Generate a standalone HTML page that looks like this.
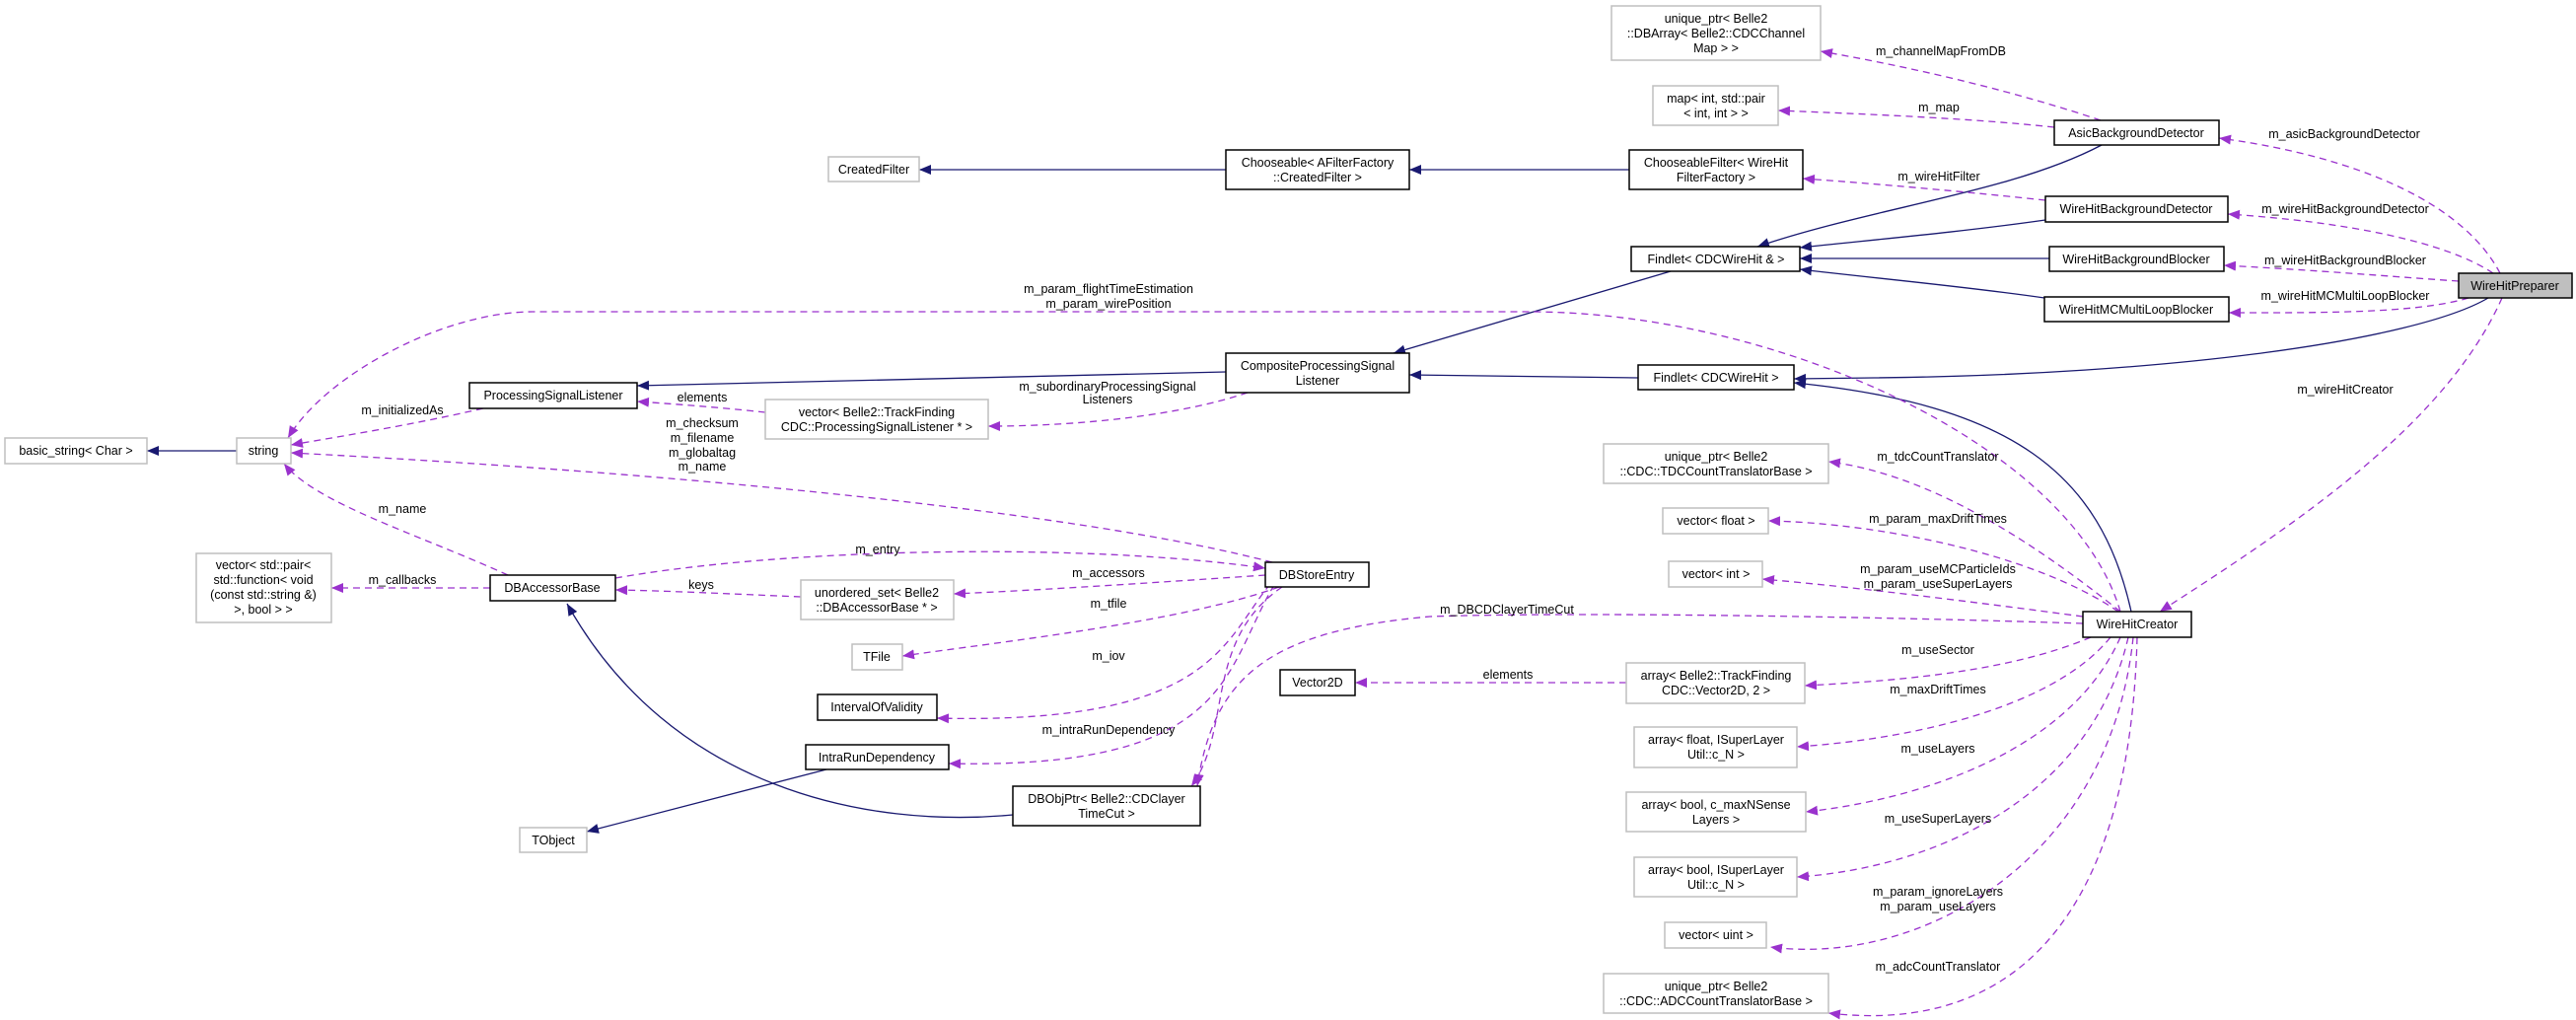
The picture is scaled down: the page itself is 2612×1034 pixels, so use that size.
<!DOCTYPE html>
<html><head><meta charset="utf-8"><style>
html,body{margin:0;padding:0;background:#fff;}
svg{display:block;}
text{font-family:"Liberation Sans",Helvetica,sans-serif;font-size:12.5px;fill:#000;}
.g{fill:#fff;stroke:#bfbfbf;stroke-width:1.5;}
.b{fill:#fff;stroke:#000;stroke-width:1.5;}
.s{fill:none;stroke:#191970;stroke-width:1.3;}
.d{fill:none;stroke:#9a32cd;stroke-width:1.3;stroke-dasharray:7,5;}
</style></head><body>
<svg width="2612" height="1034" viewBox="0 0 2612 1034" xmlns="http://www.w3.org/2000/svg">
<defs>
<marker id="an" markerUnits="userSpaceOnUse" markerWidth="14" markerHeight="12" refX="12" refY="5" orient="auto"><path d="M0,0 L12,5 L0,10 z" fill="#191970"/></marker>
<marker id="ap" markerUnits="userSpaceOnUse" markerWidth="14" markerHeight="12" refX="12" refY="5" orient="auto"><path d="M0,0 L12,5 L0,10 z" fill="#9a32cd"/></marker>
</defs>

<!-- solid inheritance edges -->
<g class="s">
<path d="M1243,172 L932,172" marker-end="url(#an)"/>
<path d="M1652,172 L1429,172" marker-end="url(#an)"/>
<path d="M2131,147 C2040,195 1900,210 1782,250" marker-end="url(#an)"/>
<path d="M2074,223 C1990,235 1900,243 1825,251" marker-end="url(#an)"/>
<path d="M2078,262 L1825,262" marker-end="url(#an)"/>
<path d="M2073,302 C1990,290 1900,282 1825,273" marker-end="url(#an)"/>
<path d="M1694,275 L1413,358" marker-end="url(#an)"/>
<path d="M1661,383 L1429,380" marker-end="url(#an)"/>
<path d="M1243,377 L646,391" marker-end="url(#an)"/>
<path d="M2523,302 C2450,345 2200,380 1900,383 L1819,384" marker-end="url(#an)"/>
<path d="M2161,620 C2130,480 2040,410 1819,388" marker-end="url(#an)"/>
<path d="M240,457 L149,457" marker-end="url(#an)"/>
<path d="M1027,826 C880,840 680,800 575,612" marker-end="url(#an)"/>
<path d="M838,780 L595,843" marker-end="url(#an)"/>
</g>

<!-- dashed member edges -->
<g class="d">
<path d="M2130,122 C2050,95 1950,70 1846,52" marker-end="url(#ap)"/>
<path d="M2083,129 C2000,120 1900,116 1803,112" marker-end="url(#ap)"/>
<path d="M2074,203 C2000,195 1900,186 1828,181" marker-end="url(#ap)"/>
<path d="M2535,277 C2500,210 2400,160 2250,140" marker-end="url(#ap)"/>
<path d="M2528,277 C2480,245 2380,225 2259,217" marker-end="url(#ap)"/>
<path d="M2493,285 C2420,280 2350,274 2255,269" marker-end="url(#ap)"/>
<path d="M2503,302 C2450,318 2350,317 2260,317" marker-end="url(#ap)"/>
<path d="M2537,302 C2480,430 2330,530 2190,620" marker-end="url(#ap)"/>
<path d="M2150,620 C2100,450 1800,316 1550,316 L540,316 C450,316 330,380 292,444" marker-end="url(#ap)"/>
<path d="M1265,398 C1200,420 1100,432 1002,432" marker-end="url(#ap)"/>
<path d="M776,418 C730,413 690,410 646,407" marker-end="url(#ap)"/>
<path d="M490,414 C420,430 360,440 295,451" marker-end="url(#ap)"/>
<path d="M1290,570 C1100,520 700,480 295,459" marker-end="url(#ap)"/>
<path d="M515,583 C420,540 320,510 288,470" marker-end="url(#ap)"/>
<path d="M624,586 C800,555 1100,550 1283,576" marker-end="url(#ap)"/>
<path d="M1283,583 C1180,590 1060,598 967,602" marker-end="url(#ap)"/>
<path d="M812,605 C740,602 680,599 624,598" marker-end="url(#ap)"/>
<path d="M497,596 L336,596" marker-end="url(#ap)"/>
<path d="M1297,595 C1200,630 1020,650 915,665" marker-end="url(#ap)"/>
<path d="M1288,592 C1240,650 1230,735 950,728" marker-end="url(#ap)"/>
<path d="M1292,593 C1240,680 1250,780 962,774" marker-end="url(#ap)"/>
<path d="M1300,595 C1220,650 1250,740 1208,797" marker-end="url(#ap)"/>
<path d="M2112,632 C1900,625 1600,620 1450,625 C1280,640 1230,690 1214,797" marker-end="url(#ap)"/>
<path d="M2150,620 C2050,540 1950,480 1854,468" marker-end="url(#ap)"/>
<path d="M2148,620 C2060,560 1900,530 1793,528" marker-end="url(#ap)"/>
<path d="M2112,625 C2000,610 1880,595 1787,587" marker-end="url(#ap)"/>
<path d="M2120,646 C2040,680 1930,690 1830,695" marker-end="url(#ap)"/>
<path d="M1649,692 L1374,692" marker-end="url(#ap)"/>
<path d="M2140,646 C2080,720 1930,750 1822,757" marker-end="url(#ap)"/>
<path d="M2150,646 C2100,760 1950,810 1831,823" marker-end="url(#ap)"/>
<path d="M2158,646 C2120,810 1960,880 1822,889" marker-end="url(#ap)"/>
<path d="M2163,646 C2140,870 1950,980 1795,960" marker-end="url(#ap)"/>
<path d="M2167,646 C2160,920 2050,1050 1854,1027" marker-end="url(#ap)"/>
</g>

<!-- edge labels -->
<g text-anchor="middle">
<text x="1968" y="56">m_channelMapFromDB</text>
<text x="1966" y="113">m_map</text>
<text x="1966" y="183">m_wireHitFilter</text>
<text x="2377" y="140">m_asicBackgroundDetector</text>
<text x="2378" y="216">m_wireHitBackgroundDetector</text>
<text x="2378" y="268">m_wireHitBackgroundBlocker</text>
<text x="2378" y="304">m_wireHitMCMultiLoopBlocker</text>
<text x="2378" y="399">m_wireHitCreator</text>
<text x="1124" y="297">m_param_flightTimeEstimation</text>
<text x="1124" y="312">m_param_wirePosition</text>
<text x="1123" y="396">m_subordinaryProcessingSignal</text>
<text x="1123" y="409">Listeners</text>
<text x="712" y="407">elements</text>
<text x="408" y="420">m_initializedAs</text>
<text x="712" y="433">m_checksum</text>
<text x="712" y="448">m_filename</text>
<text x="712" y="463">m_globaltag</text>
<text x="712" y="477">m_name</text>
<text x="408" y="520">m_name</text>
<text x="890" y="561">m_entry</text>
<text x="408" y="592">m_callbacks</text>
<text x="711" y="597">keys</text>
<text x="1124" y="585">m_accessors</text>
<text x="1124" y="616">m_tfile</text>
<text x="1124" y="669">m_iov</text>
<text x="1124" y="744">m_intraRunDependency</text>
<text x="1528" y="622">m_DBCDClayerTimeCut</text>
<text x="1529" y="688">elements</text>
<text x="1965" y="467">m_tdcCountTranslator</text>
<text x="1965" y="530">m_param_maxDriftTimes</text>
<text x="1965" y="581">m_param_useMCParticleIds</text>
<text x="1965" y="596">m_param_useSuperLayers</text>
<text x="1965" y="663">m_useSector</text>
<text x="1965" y="703">m_maxDriftTimes</text>
<text x="1965" y="763">m_useLayers</text>
<text x="1965" y="834">m_useSuperLayers</text>
<text x="1965" y="908">m_param_ignoreLayers</text>
<text x="1965" y="923">m_param_useLayers</text>
<text x="1965" y="984">m_adcCountTranslator</text>
</g>

<!-- nodes -->
<g text-anchor="middle">
<rect class="g" x="1634" y="6" width="212" height="55"/><text x="1740" y="23">unique_ptr&lt; Belle2</text><text x="1740" y="38">::DBArray&lt; Belle2::CDCChannel</text><text x="1740" y="53">Map &gt; &gt;</text>
<rect class="g" x="1676" y="87" width="127" height="40"/><text x="1740" y="104">map&lt; int, std::pair</text><text x="1740" y="119">&lt; int, int &gt; &gt;</text>
<rect class="g" x="840" y="159" width="92" height="25"/><text x="886" y="176">CreatedFilter</text>
<rect class="b" x="1243" y="152" width="186" height="40"/><text x="1336" y="169">Chooseable&lt; AFilterFactory</text><text x="1336" y="184">::CreatedFilter &gt;</text>
<rect class="b" x="1652" y="152" width="176" height="40"/><text x="1740" y="169">ChooseableFilter&lt; WireHit</text><text x="1740" y="184">FilterFactory &gt;</text>
<rect class="b" x="2083" y="122" width="167" height="25"/><text x="2166" y="139">AsicBackgroundDetector</text>
<rect class="b" x="2074" y="199" width="185" height="26"/><text x="2166" y="216">WireHitBackgroundDetector</text>
<rect class="b" x="2078" y="250" width="177" height="25"/><text x="2166" y="267">WireHitBackgroundBlocker</text>
<rect class="b" x="2073" y="301" width="187" height="25"/><text x="2166" y="318">WireHitMCMultiLoopBlocker</text>
<rect x="2493" y="277" width="115" height="25" fill="#bfbfbf" stroke="#000" stroke-width="1.5"/><text x="2550" y="294">WireHitPreparer</text>
<rect class="b" x="1654" y="250" width="171" height="25"/><text x="1740" y="267">Findlet&lt; CDCWireHit &amp; &gt;</text>
<rect class="b" x="1243" y="358" width="186" height="40"/><text x="1336" y="375">CompositeProcessingSignal</text><text x="1336" y="390">Listener</text>
<rect class="b" x="1661" y="370" width="158" height="25"/><text x="1740" y="387">Findlet&lt; CDCWireHit &gt;</text>
<rect class="g" x="5" y="444" width="144" height="26"/><text x="77" y="461">basic_string&lt; Char &gt;</text>
<rect class="g" x="240" y="444" width="55" height="26"/><text x="267" y="461">string</text>
<rect class="b" x="476" y="388" width="170" height="26"/><text x="561" y="405">ProcessingSignalListener</text>
<rect class="g" x="776" y="405" width="226" height="40"/><text x="889" y="422">vector&lt; Belle2::TrackFinding</text><text x="889" y="437">CDC::ProcessingSignalListener * &gt;</text>
<rect class="g" x="199" y="561" width="137" height="70"/><text x="267" y="577">vector&lt; std::pair&lt;</text><text x="267" y="592">std::function&lt; void</text><text x="267" y="607">(const std::string &amp;)</text><text x="267" y="622">&gt;, bool &gt; &gt;</text>
<rect class="b" x="497" y="583" width="127" height="26"/><text x="560" y="600">DBAccessorBase</text>
<rect class="g" x="812" y="588" width="155" height="40"/><text x="889" y="605">unordered_set&lt; Belle2</text><text x="889" y="620">::DBAccessorBase * &gt;</text>
<rect class="b" x="1283" y="570" width="105" height="25"/><text x="1335" y="587">DBStoreEntry</text>
<rect class="g" x="864" y="653" width="51" height="26"/><text x="889" y="670">TFile</text>
<rect class="b" x="829" y="704" width="121" height="26"/><text x="889" y="721">IntervalOfValidity</text>
<rect class="b" x="817" y="755" width="145" height="25"/><text x="889" y="772">IntraRunDependency</text>
<rect class="b" x="1027" y="797" width="190" height="40"/><text x="1122" y="814">DBObjPtr&lt; Belle2::CDClayer</text><text x="1122" y="829">TimeCut &gt;</text>
<rect class="g" x="527" y="839" width="68" height="25"/><text x="561" y="856">TObject</text>
<rect class="g" x="1626" y="450" width="228" height="40"/><text x="1740" y="467">unique_ptr&lt; Belle2</text><text x="1740" y="482">::CDC::TDCCountTranslatorBase &gt;</text>
<rect class="g" x="1686" y="515" width="107" height="26"/><text x="1740" y="532">vector&lt; float &gt;</text>
<rect class="g" x="1692" y="569" width="95" height="26"/><text x="1740" y="586">vector&lt; int &gt;</text>
<rect class="b" x="1298" y="679" width="76" height="26"/><text x="1336" y="696">Vector2D</text>
<rect class="g" x="1649" y="672" width="181" height="41"/><text x="1740" y="689">array&lt; Belle2::TrackFinding</text><text x="1740" y="704">CDC::Vector2D, 2 &gt;</text>
<rect class="g" x="1657" y="737" width="165" height="41"/><text x="1740" y="754">array&lt; float, ISuperLayer</text><text x="1740" y="769">Util::c_N &gt;</text>
<rect class="g" x="1649" y="803" width="182" height="40"/><text x="1740" y="820">array&lt; bool, c_maxNSense</text><text x="1740" y="835">Layers &gt;</text>
<rect class="g" x="1657" y="869" width="165" height="40"/><text x="1740" y="886">array&lt; bool, ISuperLayer</text><text x="1740" y="901">Util::c_N &gt;</text>
<rect class="g" x="1688" y="935" width="103" height="26"/><text x="1740" y="952">vector&lt; uint &gt;</text>
<rect class="g" x="1626" y="987" width="228" height="40"/><text x="1740" y="1004">unique_ptr&lt; Belle2</text><text x="1740" y="1019">::CDC::ADCCountTranslatorBase &gt;</text>
<rect class="b" x="2112" y="620" width="110" height="26"/><text x="2167" y="637">WireHitCreator</text>
</g>
</svg>
</body></html>
